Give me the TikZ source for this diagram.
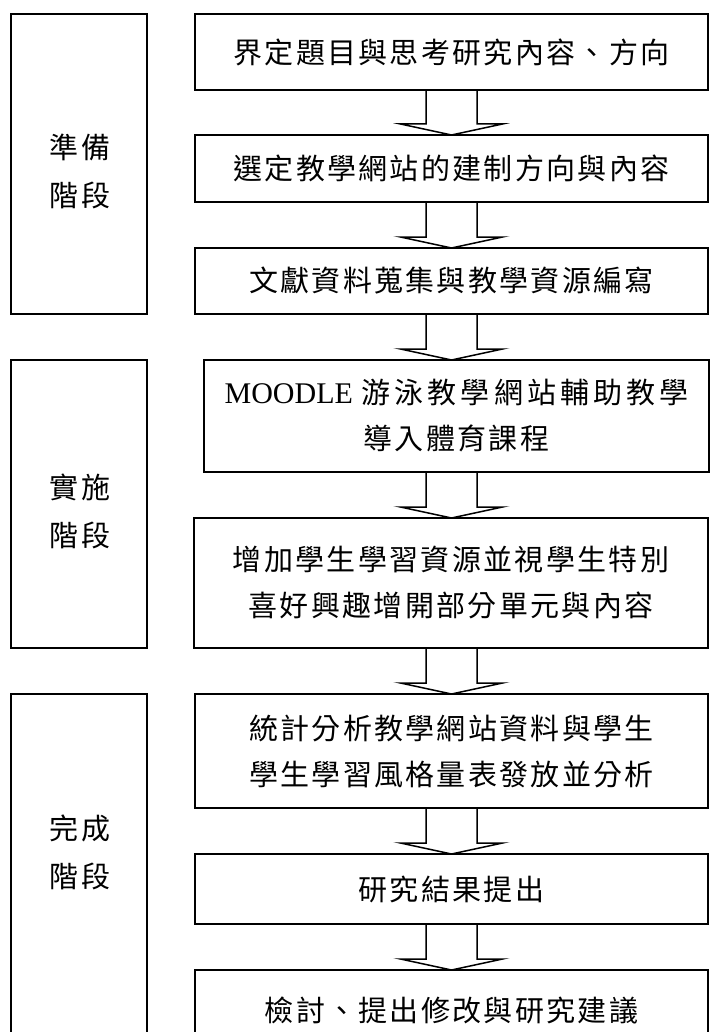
\documentclass[tikz,border=0pt]{standalone}
\usepackage{fontspec}
\setmainfont{Liberation Serif}
\newfontfamily\cjk{Noto Sans CJK TC}[LetterSpace=8]
\newfontfamily\cjkwide{Noto Sans CJK TC}[LetterSpace=14]
\usetikzlibrary{calc}
\newcommand{\blockdown}[2]{%
	\draw[arrowline] ($(#1.south -| axis)+(-25.5,0)$) |- ($(#2.north -| axis)+(-51,-11)$)
		-- (#2.north -| axis) -- ($(#2.north -| axis)+(51,-11)$) -| ($(#1.south -| axis)+(25.5,0)$);}
\begin{document}
\begin{tikzpicture}[x=1pt,y=-1pt,
	box/.style={draw,line width=2.2pt,inner sep=0pt,outer sep=0pt,anchor=north west,
		align=center,font=\cjk\fontsize{29}{46}\selectfont},
	stage/.style={draw,line width=2.2pt,inner sep=0pt,outer sep=0pt,anchor=north west,minimum width=136pt},
	stagetext/.style={align=center,inner sep=0pt,font=\cjk\fontsize{29}{48}\selectfont},
	arrowline/.style={line width=1.5pt,line join=miter}]
	
	\useasboundingbox (0,0) rectangle (710,1032);
	\fill[white] (0,0) rectangle (710,1032);
	\clip (0,0) rectangle (710,1032);
	\coordinate (axis) at (451.5,0);
	
	\node[stage,minimum height=300pt] (s1) at (11,14) {};
	\node[stage,minimum height=288pt] (s2) at (11,360) {};
	\node[stage,minimum height=370pt] (s3) at (11,694) {};
	\node[stagetext] (t1) at (80,171) {準備\\階段};
	\node[stagetext] (t2) at (80,511) {實施\\階段};
	\node[stagetext] (t3) at (80,852) {完成\\階段};
	
	\node[box,minimum width=513pt,minimum height=76pt] (b1) at (195,14) {界定題目與思考研究內容、方向};
	\node[box,minimum width=513pt,minimum height=67pt] (b2) at (195,135) {選定教學網站的建制方向與內容};
	\node[box,minimum width=513pt,minimum height=66pt] (b3) at (195,248) {文獻資料蒐集與教學資源編寫};
	\node[box,line width=1.6pt,minimum width=505pt,minimum height=112pt] (b4) at (204,360)
		{{\rmfamily\fontsize{30}{46}\selectfont MOODLE} {\cjkwide 游泳教學網站輔助教學}\\導入體育課程};
	\node[box,minimum width=514pt,minimum height=130pt] (b5) at (194,518)
		{增加學生學習資源並視學生特別\\喜好興趣增開部分單元與內容};
	\node[box,minimum width=513pt,minimum height=114pt] (b6) at (195,694)
		{統計分析教學網站資料與學生\\學生學習風格量表發放並分析};
	\node[box,minimum width=513pt,minimum height=70pt] (b7) at (195,854) {研究結果提出};
	\node[box,minimum width=513pt,minimum height=80pt] (b8) at (195,970) {檢討、提出修改與研究建議};
	
	\foreach \a/\b in {b1/b2,b2/b3,b3/b4,b4/b5,b5/b6,b6/b7,b7/b8}
		\blockdown{\a}{\b};
\end{tikzpicture}
\end{document}
